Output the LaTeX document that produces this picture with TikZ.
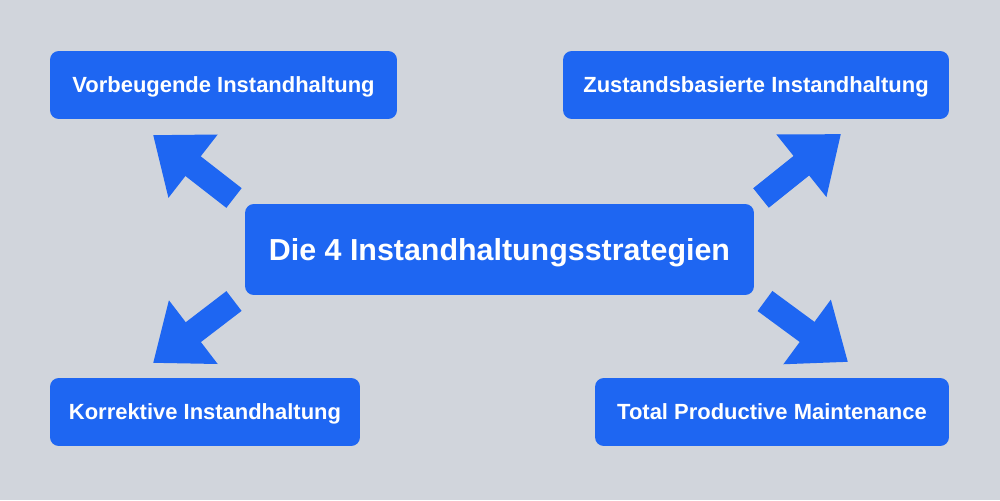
\documentclass[tikz,border=0pt]{standalone}
\usepackage{fontspec}
\setmainfont{Liberation Sans}
\usetikzlibrary{arrows.meta}
\usetikzlibrary{positioning}
\definecolor{bluebox}{RGB}{30,102,242}
\definecolor{greybg}{RGB}{209,213,220}
\tikzstyle{strat}=[rectangle,rounded corners=5pt,fill=bluebox,text=white,
                font=\fontsize{12.5pt}{15pt}\selectfont\bfseries,inner sep=0pt,
                text height=8.9pt,text depth=0pt]
\tikzstyle{hub}=[strat,font=\fontsize{17.3pt}{20pt}\selectfont\bfseries,
                text height=12.4pt]
\tikzstyle{blockarrow}=[draw=bluebox,line width=14.2pt,
                -{Triangle[width=43.7pt,length=28.9pt]}]

\begin{document}
\begin{tikzpicture}[x=0.02cm,y=-0.02cm]
\fill[greybg] (0,0) rectangle (1000,500);
\useasboundingbox (0,0) rectangle (1000,500);
\node[hub,minimum width=10.18cm,minimum height=1.82cm] (hub) at (499.5,249.5) {Die 4 Instandhaltungsstrategien};
\node[strat,minimum width=6.94cm,minimum height=1.36cm] (vorb) at (223.5,85) {Vorbeugende Instandhaltung};
\node[strat,minimum width=7.72cm,minimum height=1.36cm] (zust) at (756,85) {Zustandsbasierte Instandhaltung};
\node[strat,minimum width=6.2cm,minimum height=1.36cm] (korr) at (205,412) {Korrektive Instandhaltung};
\node[strat,minimum width=7.08cm,minimum height=1.36cm] (tpm) at (772,412) {Total Productive Maintenance};
\coordinate (vorbS) at (234,198);
\coordinate (vorbE) at (153,135);
\coordinate (zustS) at (761,198);
\coordinate (zustE) at (841,134);
\coordinate (korrS) at (234,301);
\coordinate (korrE) at (153,363);
\coordinate (tpmS) at (765,301);
\coordinate (tpmE) at (848,362);
\draw[blockarrow] (vorbS) -- (vorbE);
\draw[blockarrow] (zustS) -- (zustE);
\draw[blockarrow] (korrS) -- (korrE);
\draw[blockarrow] (tpmS) -- (tpmE);
\end{tikzpicture}
\end{document}
